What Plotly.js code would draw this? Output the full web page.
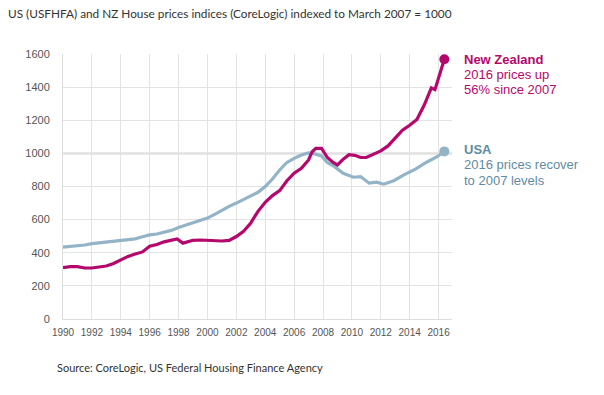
<!DOCTYPE html>
<html>
<head>
<meta charset="utf-8">
<script src="https://cdn.plot.ly/plotly-3.0.1.min.js"></script>
<style>html,body{margin:0;padding:0;background:#fff;}#chart{width:604px;height:395px;}</style>
</head>
<body>
<div id="chart"></div>
<script>
// ---- Data ----
const nzYears = [1990, 1990.5, 1991, 1991.5, 1992, 1992.5, 1993, 1993.5, 1994, 1994.5, 1995, 1995.5, 1996, 1996.5, 1997, 1997.5, 1997.9, 1998.3, 1998.7, 1999, 1999.5, 2000, 2000.5, 2001, 2001.5, 2002, 2002.5, 2003, 2003.5, 2004, 2004.5, 2005, 2005.5, 2006, 2006.5, 2007, 2007.25, 2007.5, 2007.9, 2008.3, 2008.7, 2009, 2009.4, 2009.8, 2010.2, 2010.6, 2011, 2011.5, 2012, 2012.5, 2013, 2013.5, 2014, 2014.5, 2015, 2015.5, 2015.75, 2016, 2016.4];
const nzValues = [310, 316, 316, 308, 308, 312, 320, 335, 355, 378, 392, 405, 440, 450, 466, 477, 483, 458, 468, 475, 477, 476, 471, 471, 475, 498, 530, 580, 650, 705, 745, 775, 835, 880, 910, 960, 1010, 1030, 1030, 975, 945, 930, 965, 992, 988, 975, 975, 995, 1015, 1045, 1090, 1140, 1170, 1205, 1290, 1395, 1385, 1455, 1568];

const usYears = [1990, 1990.5, 1991, 1991.5, 1992, 1992.5, 1993, 1993.5, 1994, 1994.5, 1995, 1995.5, 1996, 1996.5, 1997, 1997.5, 1998, 1998.5, 1999, 1999.5, 2000, 2000.5, 2001, 2001.5, 2002, 2002.5, 2003, 2003.5, 2004, 2004.5, 2005, 2005.5, 2006, 2006.5, 2007, 2007.3, 2007.9, 2008.3, 2008.8, 2009.4, 2010.1, 2010.6, 2011.2, 2011.7, 2012.2, 2012.9, 2013.6, 2014.4, 2015.2, 2015.9, 2016.4];
const usValues = [434, 437, 440, 447, 455, 460, 465, 470, 477, 480, 484, 497, 508, 513, 522, 535, 552, 565, 579, 593, 609, 632, 657, 680, 700, 722, 745, 765, 800, 845, 900, 945, 970, 990, 1003, 1000, 985, 945, 920, 880, 856, 860, 820, 826, 814, 835, 870, 905, 948, 980, 1012];

const baseValue = 1000;
const titleText = "US (USFHFA) and NZ House prices indices (CoreLogic) indexed to March 2007 = 1000";
const sourceText = "Source: CoreLogic, US Federal Housing Finance Agency";
const nzLabel = ["<b>New Zealand</b>", "2016 prices up", "56% since 2007"];
const usLabel = ["<b>USA</b>", "2016 prices recover", "to 2007 levels"];

const NZ_COLOR = "#b5086c";
const US_LINE = "#93b4c7";
const US_TEXT = "#5f8ba3";

const traces = [
  {x: usYears, y: usValues, type: "scatter", mode: "lines", line: {color: US_LINE, width: 3.2}, hoverinfo: "skip"},
  {x: nzYears, y: nzValues, type: "scatter", mode: "lines", line: {color: NZ_COLOR, width: 3.2}, hoverinfo: "skip"},
  {x: [usYears[usYears.length-1]], y: [usValues[usValues.length-1]], type: "scatter", mode: "markers", marker: {color: US_LINE, size: 10}, hoverinfo: "skip"},
  {x: [nzYears[nzYears.length-1]], y: [nzValues[nzValues.length-1]], type: "scatter", mode: "markers", marker: {color: NZ_COLOR, size: 10}, hoverinfo: "skip"}
];

function labelAnns(lines, color, topY) {
  return lines.map((t, i) => ({
    xref: "paper", yref: "paper", x: 1.026, y: topY - i * 0.058,
    xanchor: "left", yanchor: "middle", showarrow: false, align: "left",
    text: t, font: {family: "Liberation Sans, Arial, sans-serif", size: 13, color: color}
  }));
}

const layout = {
  width: 604, height: 395,
  margin: {l: 63, r: 152, t: 54, b: 76},
  paper_bgcolor: "#ffffff", plot_bgcolor: "#ffffff",
  showlegend: false,
  title: {
    text: titleText, x: 8/604, xanchor: "left", xref: "container",
    y: 1 - 14/395, yanchor: "middle", yref: "container",
    font: {family: "Lato, 'Open Sans', sans-serif", size: 11.8, color: "#333333"}
  },
  xaxis: {
    range: [1990, 2016.93], tick0: 1990, dtick: 2, tickmode: "linear",
    showgrid: true, gridcolor: "#e3e3e3", gridwidth: 1,
    showline: true, linecolor: "#dddddd", linewidth: 1,
    zeroline: false, ticks: "outside", ticklen: 4, tickcolor: "rgba(0,0,0,0)",
    tickfont: {family: "Liberation Sans, Arial, sans-serif", size: 10, color: "#555555"},
    fixedrange: true
  },
  yaxis: {
    range: [0, 1600], tick0: 0, dtick: 200, tickmode: "linear",
    showgrid: true, gridcolor: "#e3e3e3", gridwidth: 1,
    showline: true, linecolor: "#dddddd", linewidth: 1,
    zeroline: false, ticks: "outside", ticklen: 10, tickcolor: "rgba(0,0,0,0)",
    tickfont: {family: "Liberation Sans, Arial, sans-serif", size: 11, color: "#555555"},
    fixedrange: true
  },
  shapes: [
    {type: "line", xref: "paper", x0: 0, x1: 1, yref: "y", y0: baseValue, y1: baseValue,
     line: {color: "#cfcfcf", width: 2}, layer: "below"}
  ],
  annotations: [
    ...labelAnns(nzLabel, NZ_COLOR, 0.981),
    ...labelAnns(usLabel, US_TEXT, 0.64),
    {xref: "paper", yref: "paper", x: (55-63)/389, y: -(368-319.3)/265.3, xanchor: "left", yanchor: "middle",
     showarrow: false, text: sourceText, font: {family: "Lato, 'Open Sans', sans-serif", size: 11, color: "#333333"}}
  ]
};

Plotly.newPlot("chart", traces, layout, {staticPlot: true, displayModeBar: false});
</script>
</body>
</html>
